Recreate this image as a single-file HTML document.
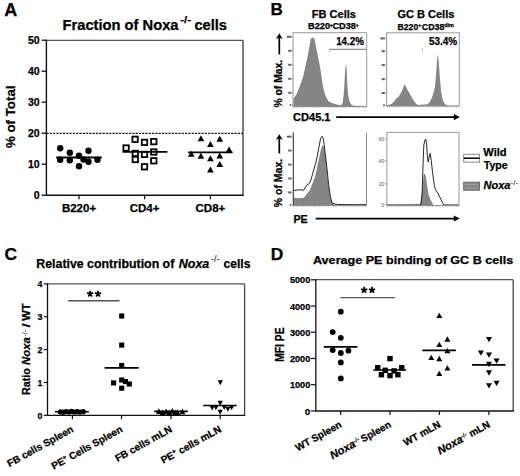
<!DOCTYPE html>
<html><head><meta charset="utf-8"><style>
html,body{margin:0;padding:0;background:#fff;overflow:hidden;}
text.k{stroke:#000;stroke-width:0.25px;}
svg{display:block;}

</style></head><body>
<svg width="520" height="476" viewBox="0 0 520 476" font-family='"Liberation Sans", sans-serif' font-weight="bold">
<rect width="520" height="476" fill="#fff"/>
<text class="k" x="4.2" y="16.2" font-size="18" fill="#000">A</text>
<text class="k" x="62.5" y="29.6" font-size="14.3" textLength="116" lengthAdjust="spacingAndGlyphs" fill="#000">Fraction of Noxa</text>
<text class="k" x="180.3" y="23.4" font-size="9" textLength="10.6" lengthAdjust="spacingAndGlyphs" fill="#000">-/-</text>
<text class="k" x="194.4" y="29.6" font-size="14.3" textLength="32.6" lengthAdjust="spacingAndGlyphs" fill="#000">cells</text>
<line x1="46.4" y1="40.3" x2="243" y2="40.3" stroke="#555" stroke-width="1.3" stroke-linecap="butt"/>
<line x1="243" y1="40.3" x2="243" y2="195.3" stroke="#444" stroke-width="1.4" stroke-linecap="butt"/>
<line x1="46.4" y1="39.7" x2="46.4" y2="196" stroke="#111" stroke-width="1.4" stroke-linecap="butt"/>
<line x1="46.4" y1="195.3" x2="243.6" y2="195.3" stroke="#111" stroke-width="1.4" stroke-linecap="butt"/>
<line x1="41.6" y1="195.2" x2="46.4" y2="195.2" stroke="#111" stroke-width="1.3" stroke-linecap="butt"/>
<text class="k" x="39.6" y="198.9" font-size="10.5" text-anchor="end" fill="#000">0</text>
<line x1="41.6" y1="164.2" x2="46.4" y2="164.2" stroke="#111" stroke-width="1.3" stroke-linecap="butt"/>
<text class="k" x="39.6" y="167.9" font-size="10.5" text-anchor="end" fill="#000">10</text>
<line x1="41.6" y1="133.2" x2="46.4" y2="133.2" stroke="#111" stroke-width="1.3" stroke-linecap="butt"/>
<text class="k" x="39.6" y="136.9" font-size="10.5" text-anchor="end" fill="#000">20</text>
<line x1="41.6" y1="102.2" x2="46.4" y2="102.2" stroke="#111" stroke-width="1.3" stroke-linecap="butt"/>
<text class="k" x="39.6" y="105.9" font-size="10.5" text-anchor="end" fill="#000">30</text>
<line x1="41.6" y1="71.2" x2="46.4" y2="71.2" stroke="#111" stroke-width="1.3" stroke-linecap="butt"/>
<text class="k" x="39.6" y="74.9" font-size="10.5" text-anchor="end" fill="#000">40</text>
<line x1="41.6" y1="40.2" x2="46.4" y2="40.2" stroke="#111" stroke-width="1.3" stroke-linecap="butt"/>
<text class="k" x="39.6" y="43.9" font-size="10.5" text-anchor="end" fill="#000">50</text>
<line x1="79" y1="195.3" x2="79" y2="199.3" stroke="#111" stroke-width="1.3" stroke-linecap="butt"/>
<text class="k" x="79" y="211.5" font-size="11.5" text-anchor="middle" fill="#000">B220+</text>
<line x1="144.6" y1="195.3" x2="144.6" y2="199.3" stroke="#111" stroke-width="1.3" stroke-linecap="butt"/>
<text class="k" x="144.6" y="211.5" font-size="11.5" text-anchor="middle" fill="#000">CD4+</text>
<line x1="210.4" y1="195.3" x2="210.4" y2="199.3" stroke="#111" stroke-width="1.3" stroke-linecap="butt"/>
<text class="k" x="210.4" y="211.5" font-size="11.5" text-anchor="middle" fill="#000">CD8+</text>
<line x1="46.4" y1="133.4" x2="243" y2="133.4" stroke="#111" stroke-width="1.2" stroke-linecap="butt" stroke-dasharray="2.2 1.1"/>
<circle cx="60.2" cy="148.2" r="3.2" fill="#000"/>
<circle cx="69.8" cy="152.8" r="3.2" fill="#000"/>
<circle cx="88.5" cy="150.7" r="3.2" fill="#000"/>
<circle cx="60.2" cy="159.7" r="3.2" fill="#000"/>
<circle cx="69.8" cy="160.2" r="3.2" fill="#000"/>
<circle cx="79" cy="155.8" r="3.2" fill="#000"/>
<circle cx="83.5" cy="159.5" r="3.2" fill="#000"/>
<circle cx="88.5" cy="161.8" r="3.2" fill="#000"/>
<circle cx="97.5" cy="159.8" r="3.2" fill="#000"/>
<circle cx="79" cy="166.2" r="3.2" fill="#000"/>
<line x1="56.2" y1="157.5" x2="101.7" y2="157.5" stroke="#000" stroke-width="1.8" stroke-linecap="butt"/>
<rect x="132.4" y="136.6" width="5.4" height="5.4" fill="#fff" stroke="#000" stroke-width="1.8"/>
<rect x="141.8" y="139.7" width="5.4" height="5.4" fill="#fff" stroke="#000" stroke-width="1.8"/>
<rect x="151.1" y="138.9" width="5.4" height="5.4" fill="#fff" stroke="#000" stroke-width="1.8"/>
<rect x="123.4" y="145.3" width="5.4" height="5.4" fill="#fff" stroke="#000" stroke-width="1.8"/>
<rect x="132.6" y="150.7" width="5.4" height="5.4" fill="#fff" stroke="#000" stroke-width="1.8"/>
<rect x="141.8" y="151.7" width="5.4" height="5.4" fill="#fff" stroke="#000" stroke-width="1.8"/>
<rect x="151.1" y="149.3" width="5.4" height="5.4" fill="#fff" stroke="#000" stroke-width="1.8"/>
<rect x="132.6" y="156.8" width="5.4" height="5.4" fill="#fff" stroke="#000" stroke-width="1.8"/>
<rect x="151.1" y="158.1" width="5.4" height="5.4" fill="#fff" stroke="#000" stroke-width="1.8"/>
<rect x="141.8" y="164.1" width="5.4" height="5.4" fill="#fff" stroke="#000" stroke-width="1.8"/>
<line x1="122.5" y1="151.9" x2="167.4" y2="151.9" stroke="#000" stroke-width="1.8" stroke-linecap="butt"/>
<polygon points="200.9,135.3 204.25,141.3 197.55,141.3" fill="#000"/>
<polygon points="219.75,135.7 223.1,141.7 216.4,141.7" fill="#000"/>
<polygon points="210.4,141 213.75,147 207.05,147" fill="#000"/>
<polygon points="229.1,146.6 232.45,152.6 225.75,152.6" fill="#000"/>
<polygon points="191.25,150.7 194.6,156.7 187.9,156.7" fill="#000"/>
<polygon points="200.9,152.8 204.25,158.8 197.55,158.8" fill="#000"/>
<polygon points="210.4,155.3 213.75,161.3 207.05,161.3" fill="#000"/>
<polygon points="219.75,152.5 223.1,158.5 216.4,158.5" fill="#000"/>
<polygon points="219.75,161 223.1,167 216.4,167" fill="#000"/>
<polygon points="210.4,166.6 213.75,172.6 207.05,172.6" fill="#000"/>
<line x1="188.1" y1="152.4" x2="232.5" y2="152.4" stroke="#000" stroke-width="1.8" stroke-linecap="butt"/>
<text class="k" x="15.3" y="116.8" font-size="12.6" text-anchor="middle" textLength="62.5" lengthAdjust="spacingAndGlyphs" transform="rotate(-90 15.3 116.8)" fill="#000">% of Total</text>
<text class="k" x="270.4" y="15.1" font-size="17" fill="#000">B</text>
<text class="k" x="333.9" y="17.9" font-size="11" text-anchor="middle" textLength="44.2" lengthAdjust="spacingAndGlyphs" fill="#000">FB Cells</text>
<text class="k" x="425.9" y="17.9" font-size="11" text-anchor="middle" textLength="57" lengthAdjust="spacingAndGlyphs" fill="#000">GC B Cells</text>
<text class="k" x="308" y="29.3" font-size="8.4" textLength="22.1" lengthAdjust="spacingAndGlyphs" fill="#000">B220</text>
<text class="k" x="329.8" y="26.9" font-size="5.2" fill="#000">+</text>
<text class="k" x="332.5" y="29.3" font-size="8.4" textLength="23.4" lengthAdjust="spacingAndGlyphs" fill="#000">CD38</text>
<text class="k" x="355.8" y="26.9" font-size="5.2" fill="#000">+</text>
<text class="k" x="397.5" y="29.7" font-size="8.4" textLength="20.7" lengthAdjust="spacingAndGlyphs" fill="#000">B220</text>
<text class="k" x="418.3" y="27.3" font-size="5.2" fill="#000">+</text>
<text class="k" x="421.8" y="29.7" font-size="8.4" textLength="22.6" lengthAdjust="spacingAndGlyphs" fill="#000">CD38</text>
<text class="k" x="444.3" y="27.2" font-size="5.4" textLength="9.6" lengthAdjust="spacingAndGlyphs" fill="#000">dim</text>
<path d="M293.4,106.6 L293.4,98.9 L296.7,93.9 L300.1,85.5 L303.4,75.4 L306.8,60.3 L308.5,51.8 L310.2,41.8 L311,38.4 L312.7,37.4 L314.4,38.4 L316,46.8 L317.7,55.2 L319.4,63.6 L321.1,73.7 L322.8,85.5 L324.5,93 L326.1,97 L328.5,101.3 L331.9,103 L336.6,104.5 L340.6,105.3 L342.1,104.2 L342.9,101.3 L343.8,93.2 L344.4,83.9 L345,72.4 L345.6,65.4 L346.2,64.6 L346.8,72.4 L347.3,83.9 L348.1,94.4 L349.3,100.7 L351,104.2 L353.4,105.7 L366.4,105.9 L366.4,106.6 Z" fill="#858585" stroke="none" stroke-width="1"/>
<path d="M386.8,106 L386.8,105.4 L390,104.6 L392,103.6 L394.5,101 L396.5,98.3 L398.5,96.8 L400.5,93.5 L402.5,89.5 L403.8,86 L404.6,84.5 L405.4,85.5 L407,89 L409,92.5 L411,96 L413,99.5 L415,102.5 L417,104.5 L419,105.1 L424,104.6 L427.5,104.2 L429.5,102.5 L431.5,98.6 L433.5,93 L435,86.5 L436,76 L436.8,63 L437.5,54.5 L438.2,57 L439,65 L440,80 L441.2,92 L442.8,100 L444.5,103.6 L446.5,105.2 L450,105.7 L459,105.8 L459,106 Z" fill="#858585" stroke="none" stroke-width="1"/>
<line x1="293" y1="32.7" x2="366.7" y2="32.7" stroke="#999" stroke-width="1" stroke-linecap="butt"/>
<line x1="293" y1="32.7" x2="293" y2="106.6" stroke="#999" stroke-width="1" stroke-linecap="butt"/>
<line x1="366.7" y1="32.7" x2="366.7" y2="106.6" stroke="#999" stroke-width="1" stroke-linecap="butt"/>
<line x1="293" y1="106.6" x2="366.7" y2="106.6" stroke="#888" stroke-width="1" stroke-linecap="butt"/>
<line x1="386.6" y1="32.8" x2="459.3" y2="32.8" stroke="#999" stroke-width="1" stroke-linecap="butt"/>
<line x1="386.6" y1="32.8" x2="386.6" y2="106.1" stroke="#999" stroke-width="1" stroke-linecap="butt"/>
<line x1="459.3" y1="32.8" x2="459.3" y2="106.1" stroke="#999" stroke-width="1" stroke-linecap="butt"/>
<line x1="386.6" y1="106.1" x2="459.3" y2="106.1" stroke="#888" stroke-width="1" stroke-linecap="butt"/>
<rect x="286.9" y="35.8" width="4.5" height="2" fill="#666"/>
<line x1="292" y1="36.8" x2="293.6" y2="36.8" stroke="#888" stroke-width="0.8"/>
<rect x="288.2" y="49.8" width="3.2" height="2" fill="#666"/>
<line x1="292" y1="50.8" x2="293.6" y2="50.8" stroke="#888" stroke-width="0.8"/>
<rect x="288.2" y="63.8" width="3.2" height="2" fill="#666"/>
<line x1="292" y1="64.8" x2="293.6" y2="64.8" stroke="#888" stroke-width="0.8"/>
<rect x="288.2" y="77.8" width="3.2" height="2" fill="#666"/>
<line x1="292" y1="78.8" x2="293.6" y2="78.8" stroke="#888" stroke-width="0.8"/>
<rect x="288.2" y="91.8" width="3.2" height="2" fill="#666"/>
<line x1="292" y1="92.8" x2="293.6" y2="92.8" stroke="#888" stroke-width="0.8"/>
<rect x="289.8" y="104" width="1.6" height="2" fill="#666"/>
<line x1="292" y1="105" x2="293.6" y2="105" stroke="#888" stroke-width="0.8"/>
<rect x="380.3" y="37.4" width="4.5" height="2" fill="#666"/>
<line x1="385.4" y1="38.4" x2="387" y2="38.4" stroke="#888" stroke-width="0.8"/>
<rect x="381.6" y="50.2" width="3.2" height="2" fill="#666"/>
<line x1="385.4" y1="51.2" x2="387" y2="51.2" stroke="#888" stroke-width="0.8"/>
<rect x="381.6" y="64.1" width="3.2" height="2" fill="#666"/>
<line x1="385.4" y1="65.1" x2="387" y2="65.1" stroke="#888" stroke-width="0.8"/>
<rect x="381.6" y="78.2" width="3.2" height="2" fill="#666"/>
<line x1="385.4" y1="79.2" x2="387" y2="79.2" stroke="#888" stroke-width="0.8"/>
<rect x="381.6" y="92" width="3.2" height="2" fill="#666"/>
<line x1="385.4" y1="93" x2="387" y2="93" stroke="#888" stroke-width="0.8"/>
<rect x="383.2" y="104.3" width="1.6" height="2" fill="#666"/>
<line x1="385.4" y1="105.3" x2="387" y2="105.3" stroke="#888" stroke-width="0.8"/>
<text class="k" x="363.8" y="45.1" font-size="10.3" text-anchor="end" textLength="27.6" lengthAdjust="spacingAndGlyphs" fill="#000">14.2%</text>
<line x1="329.6" y1="49.3" x2="366.5" y2="49.3" stroke="#777" stroke-width="1" stroke-linecap="butt"/>
<line x1="329.6" y1="49.3" x2="329.6" y2="52" stroke="#999" stroke-width="0.8" stroke-linecap="butt"/>
<text class="k" x="457.2" y="45.1" font-size="10.3" text-anchor="end" textLength="28.2" lengthAdjust="spacingAndGlyphs" fill="#000">53.4%</text>
<line x1="422.3" y1="48.2" x2="422.3" y2="51" stroke="#999" stroke-width="0.8" stroke-linecap="butt"/>
<path d="M293.8,205.3 L293.8,197.7 L298.6,198.2 L303.9,197.7 L306.5,194.2 L310.1,189.8 L312.7,182.7 L315.4,175.6 L318,163.3 L320.6,150.9 L322.4,144.8 L324.2,147.4 L325.9,159.8 L327.7,177.4 L329.5,193.3 L331.2,201.2 L333.9,204.2 L336,204.8 L336,205.3 Z" fill="#858585" stroke="none" stroke-width="1"/>
<path d="M293.8,190.6 L298.6,189.8 L303.9,190.1 L306.5,185.3 L309.2,183.6 L310.9,180.1 L313.6,170.4 L316.2,161.5 L318.9,147.4 L320.6,138.6 L322.1,136.3 L323.3,138.6 L324.2,144.8 L325.1,152.7 L326.8,166.8 L328.6,184.5 L330.4,196.8 L332.1,203 L335.6,204.2 L340,204.6 L366,204.7" fill="none" stroke="#111" stroke-width="0.9"/>
<path d="M420.1,205.2 L421.4,197.2 L422.6,185.5 L423.8,174.5 L424.8,173.4 L426,177.1 L427.1,185.5 L428.5,193.9 L430.2,199 L432.7,203.9 L433.5,205.2 Z" fill="#858585" stroke="none" stroke-width="1"/>
<path d="M387,205 L420.9,204.9 L422.1,193.9 L423.1,163.6 L423.8,145.1 L424.8,140.9 L425.6,139 L426.5,142.6 L427.3,155.2 L428.2,161.9 L429.2,156.9 L430.2,153.3 L431.2,160.3 L432.7,173.7 L434.4,185.5 L435.5,189.7 L437.7,193 L439.9,197.2 L442.3,202.3 L443.6,204.9 L459,205" fill="none" stroke="#111" stroke-width="0.9"/>
<line x1="293.3" y1="132.4" x2="293.3" y2="205.6" stroke="#222" stroke-width="1" stroke-linecap="butt"/>
<line x1="366.5" y1="132.4" x2="366.5" y2="205.6" stroke="#888" stroke-width="1" stroke-linecap="butt"/>
<line x1="293.3" y1="205.6" x2="366.5" y2="205.6" stroke="#888" stroke-width="1" stroke-linecap="butt"/>
<line x1="386.9" y1="132.4" x2="459" y2="132.4" stroke="#999" stroke-width="1" stroke-linecap="butt"/>
<line x1="386.9" y1="132.4" x2="386.9" y2="205.6" stroke="#999" stroke-width="1" stroke-linecap="butt"/>
<line x1="459" y1="132.4" x2="459" y2="205.6" stroke="#999" stroke-width="1" stroke-linecap="butt"/>
<line x1="386.9" y1="205.6" x2="459" y2="205.6" stroke="#888" stroke-width="1" stroke-linecap="butt"/>
<rect x="286.9" y="135.7" width="4.5" height="2" fill="#666"/>
<line x1="292" y1="136.7" x2="293.6" y2="136.7" stroke="#888" stroke-width="0.8"/>
<rect x="288.2" y="149.6" width="3.2" height="2" fill="#666"/>
<line x1="292" y1="150.6" x2="293.6" y2="150.6" stroke="#888" stroke-width="0.8"/>
<rect x="288.2" y="163.6" width="3.2" height="2" fill="#666"/>
<line x1="292" y1="164.6" x2="293.6" y2="164.6" stroke="#888" stroke-width="0.8"/>
<rect x="288.2" y="177.5" width="3.2" height="2" fill="#666"/>
<line x1="292" y1="178.5" x2="293.6" y2="178.5" stroke="#888" stroke-width="0.8"/>
<rect x="288.2" y="191.4" width="3.2" height="2" fill="#666"/>
<line x1="292" y1="192.4" x2="293.6" y2="192.4" stroke="#888" stroke-width="0.8"/>
<rect x="289.8" y="203.9" width="1.6" height="2" fill="#666"/>
<line x1="292" y1="204.9" x2="293.6" y2="204.9" stroke="#888" stroke-width="0.8"/>
<text x="384.4" y="140.6" font-size="5" font-weight="normal" text-anchor="end" fill="#555">60</text>
<line x1="385" y1="138.8" x2="386.9" y2="138.8" stroke="#888" stroke-width="0.8" stroke-linecap="butt"/>
<text x="384.4" y="162.8" font-size="5" font-weight="normal" text-anchor="end" fill="#555">40</text>
<line x1="385" y1="161" x2="386.9" y2="161" stroke="#888" stroke-width="0.8" stroke-linecap="butt"/>
<text x="384.4" y="185.5" font-size="5" font-weight="normal" text-anchor="end" fill="#555">20</text>
<line x1="385" y1="183.7" x2="386.9" y2="183.7" stroke="#888" stroke-width="0.8" stroke-linecap="butt"/>
<text x="384.4" y="206.6" font-size="5" font-weight="normal" text-anchor="end" fill="#555">0</text>
<line x1="385" y1="204.8" x2="386.9" y2="204.8" stroke="#888" stroke-width="0.8" stroke-linecap="butt"/>
<line x1="293.5" y1="107.3" x2="366.5" y2="107.3" stroke="#aaa" stroke-width="1.2" stroke-dasharray="0.8 1.6 0.8 2.4 0.8 3.5"/>
<line x1="387" y1="106.8" x2="459" y2="106.8" stroke="#aaa" stroke-width="1.2" stroke-dasharray="0.8 1.6 0.8 2.4 0.8 3.5"/>
<line x1="293.5" y1="206.3" x2="366.5" y2="206.3" stroke="#aaa" stroke-width="1.2" stroke-dasharray="0.8 1.6 0.8 2.4 0.8 3.5"/>
<line x1="387" y1="206.3" x2="459" y2="206.3" stroke="#aaa" stroke-width="1.2" stroke-dasharray="0.8 1.6 0.8 2.4 0.8 3.5"/>
<text class="k" x="281.8" y="83.65" font-size="10.8" text-anchor="middle" textLength="47.7" lengthAdjust="spacingAndGlyphs" transform="rotate(-90 281.8 83.65)" fill="#000">% of Max.</text>
<line x1="279.3" y1="54.4" x2="279.3" y2="37.3" stroke="#000" stroke-width="1.7" stroke-linecap="butt"/>
<path d="M279.3,33.3 L282.7,38.9 L279.3,37.5 L275.9,38.9 Z" fill="#000" stroke="none" stroke-width="1"/>
<text class="k" x="281.8" y="183" font-size="10.8" text-anchor="middle" textLength="48.4" lengthAdjust="spacingAndGlyphs" transform="rotate(-90 281.8 183)" fill="#000">% of Max.</text>
<line x1="279.3" y1="153.4" x2="279.3" y2="138.2" stroke="#000" stroke-width="1.7" stroke-linecap="butt"/>
<path d="M279.3,134.2 L282.7,139.8 L279.3,138.4 L275.9,139.8 Z" fill="#000" stroke="none" stroke-width="1"/>
<text class="k" x="293.1" y="121.1" font-size="11" textLength="37.4" lengthAdjust="spacingAndGlyphs" fill="#000">CD45.1</text>
<line x1="336.2" y1="117.2" x2="455" y2="117.2" stroke="#000" stroke-width="1.8" stroke-linecap="butt"/>
<path d="M459.8,117.1 L453.8,114 L453.8,120.2 Z" fill="#000" stroke="none" stroke-width="1"/>
<text class="k" x="293.4" y="222.9" font-size="11" textLength="14.3" lengthAdjust="spacingAndGlyphs" fill="#000">PE</text>
<line x1="315.7" y1="218.6" x2="455" y2="218.6" stroke="#000" stroke-width="1.8" stroke-linecap="butt"/>
<path d="M459.8,218.5 L453.8,215.4 L453.8,221.6 Z" fill="#000" stroke="none" stroke-width="1"/>
<rect x="463.7" y="154.3" width="15.8" height="7.8" fill="#fff" stroke="#888" stroke-width="1"/>
<line x1="463.7" y1="158.2" x2="479.5" y2="158.2" stroke="#111" stroke-width="1.6" stroke-linecap="butt"/>
<rect x="463.7" y="182.2" width="15.8" height="8" fill="#888" stroke="#6a6a6a" stroke-width="1"/>
<line x1="464.2" y1="184.4" x2="479" y2="184.4" stroke="#9c9c9c" stroke-width="1.1" stroke-linecap="butt"/>
<line x1="464.2" y1="188.2" x2="479" y2="188.2" stroke="#9c9c9c" stroke-width="1.1" stroke-linecap="butt"/>
<text class="k" x="483.3" y="156.4" font-size="11" textLength="23.3" lengthAdjust="spacingAndGlyphs" fill="#000">Wild</text>
<text class="k" x="483.7" y="169.3" font-size="11" textLength="24" lengthAdjust="spacingAndGlyphs" fill="#000">Type</text>
<text class="k" x="483.5" y="189.4" font-size="11" font-style="italic" textLength="27" lengthAdjust="spacingAndGlyphs" fill="#000">Noxa</text>
<text x="510.6" y="185.3" font-size="7" font-weight="normal" textLength="7.4" lengthAdjust="spacingAndGlyphs" fill="#000">-/-</text>
<text class="k" x="4.5" y="259.7" font-size="17.4" fill="#000">C</text>
<text class="k" x="36.3" y="267.5" font-size="12.1" textLength="138" lengthAdjust="spacingAndGlyphs" fill="#000">Relative contribution of</text>
<text class="k" x="178.8" y="267.5" font-size="12.1" font-style="italic" textLength="30.5" lengthAdjust="spacingAndGlyphs" fill="#000">Noxa</text>
<text x="210.9" y="261.9" font-size="9.5" font-weight="normal" textLength="8.6" lengthAdjust="spacingAndGlyphs" fill="#000">-/-</text>
<text class="k" x="223.6" y="267.5" font-size="12.1" textLength="26.8" lengthAdjust="spacingAndGlyphs" fill="#000">cells</text>
<line x1="47.5" y1="283.9" x2="244.6" y2="283.9" stroke="#555" stroke-width="1.3" stroke-linecap="butt"/>
<line x1="244.6" y1="283.9" x2="244.6" y2="415.3" stroke="#444" stroke-width="1.3" stroke-linecap="butt"/>
<line x1="47.5" y1="283.3" x2="47.5" y2="415.9" stroke="#111" stroke-width="1.3" stroke-linecap="butt"/>
<line x1="47.5" y1="415.3" x2="245.2" y2="415.3" stroke="#111" stroke-width="1.3" stroke-linecap="butt"/>
<line x1="43.8" y1="415.3" x2="47.5" y2="415.3" stroke="#111" stroke-width="1.2" stroke-linecap="butt"/>
<text class="k" x="42.3" y="418.6" font-size="8.8" text-anchor="end" fill="#000">0</text>
<line x1="43.8" y1="382.45" x2="47.5" y2="382.45" stroke="#111" stroke-width="1.2" stroke-linecap="butt"/>
<text class="k" x="42.3" y="385.75" font-size="8.8" text-anchor="end" fill="#000">1</text>
<line x1="43.8" y1="349.6" x2="47.5" y2="349.6" stroke="#111" stroke-width="1.2" stroke-linecap="butt"/>
<text class="k" x="42.3" y="352.9" font-size="8.8" text-anchor="end" fill="#000">2</text>
<line x1="43.8" y1="316.75" x2="47.5" y2="316.75" stroke="#111" stroke-width="1.2" stroke-linecap="butt"/>
<text class="k" x="42.3" y="320.05" font-size="8.8" text-anchor="end" fill="#000">3</text>
<line x1="43.8" y1="283.9" x2="47.5" y2="283.9" stroke="#111" stroke-width="1.2" stroke-linecap="butt"/>
<text class="k" x="42.3" y="287.2" font-size="8.8" text-anchor="end" fill="#000">4</text>
<line x1="72.4" y1="415.3" x2="72.4" y2="419.2" stroke="#111" stroke-width="1.2" stroke-linecap="butt"/>
<line x1="121.5" y1="415.3" x2="121.5" y2="419.2" stroke="#111" stroke-width="1.2" stroke-linecap="butt"/>
<line x1="171" y1="415.3" x2="171" y2="419.2" stroke="#111" stroke-width="1.2" stroke-linecap="butt"/>
<line x1="220.2" y1="415.3" x2="220.2" y2="419.2" stroke="#111" stroke-width="1.2" stroke-linecap="butt"/>
<circle cx="60.3" cy="411.9" r="2.6" fill="#000"/>
<circle cx="63.2" cy="412.2" r="2.6" fill="#000"/>
<circle cx="66.2" cy="411.6" r="2.6" fill="#000"/>
<circle cx="69.2" cy="412.1" r="2.6" fill="#000"/>
<circle cx="71.4" cy="411.3" r="2.6" fill="#000"/>
<circle cx="74" cy="412" r="2.6" fill="#000"/>
<circle cx="77" cy="411.7" r="2.6" fill="#000"/>
<circle cx="80" cy="412.1" r="2.6" fill="#000"/>
<circle cx="83.3" cy="411.7" r="2.6" fill="#000"/>
<line x1="55" y1="411.7" x2="88.8" y2="411.7" stroke="#000" stroke-width="1.6" stroke-linecap="butt"/>
<rect x="119.15" y="313.45" width="5.1" height="5.1" fill="#000"/>
<rect x="119.15" y="342.55" width="5.1" height="5.1" fill="#000"/>
<rect x="119.15" y="362.95" width="5.1" height="5.1" fill="#000"/>
<rect x="111.05" y="380.35" width="5.1" height="5.1" fill="#000"/>
<rect x="119.15" y="377.45" width="5.1" height="5.1" fill="#000"/>
<rect x="122.95" y="379.05" width="5.1" height="5.1" fill="#000"/>
<rect x="126.75" y="381.45" width="5.1" height="5.1" fill="#000"/>
<rect x="119.15" y="385.65" width="5.1" height="5.1" fill="#000"/>
<line x1="104.6" y1="367.9" x2="138.8" y2="367.9" stroke="#000" stroke-width="1.6" stroke-linecap="butt"/>
<polygon points="158.9,408.2 161.8,414 156,414" fill="#000"/>
<polygon points="162.6,409.4 165.5,415.2 159.7,415.2" fill="#000"/>
<polygon points="166.2,408.5 169.1,414.3 163.3,414.3" fill="#000"/>
<polygon points="169.4,409.4 172.3,415.2 166.5,415.2" fill="#000"/>
<polygon points="172.4,407.9 175.3,413.7 169.5,413.7" fill="#000"/>
<polygon points="175,409.6 177.9,415.4 172.1,415.4" fill="#000"/>
<polygon points="177.4,409.2 180.3,415 174.5,415" fill="#000"/>
<polygon points="182.4,408.5 185.3,414.3 179.5,414.3" fill="#000"/>
<line x1="154.3" y1="411.4" x2="187.8" y2="411.4" stroke="#000" stroke-width="1.6" stroke-linecap="butt"/>
<polygon points="220.3,385.2 222.95,380.2 217.65,380.2" fill="#000"/>
<polygon points="220.2,405.8 222.85,400.8 217.55,400.8" fill="#000"/>
<polygon points="212.2,410.6 214.85,405.6 209.55,405.6" fill="#000"/>
<polygon points="215.9,410.2 218.55,405.2 213.25,405.2" fill="#000"/>
<polygon points="220.2,414.7 222.85,409.7 217.55,409.7" fill="#000"/>
<polygon points="224.2,410 226.85,405 221.55,405" fill="#000"/>
<polygon points="227.9,411.8 230.55,406.8 225.25,406.8" fill="#000"/>
<polygon points="231.6,410.2 234.25,405.2 228.95,405.2" fill="#000"/>
<line x1="203.2" y1="405.5" x2="236.8" y2="405.5" stroke="#000" stroke-width="1.6" stroke-linecap="butt"/>
<line x1="68.2" y1="300.7" x2="119.5" y2="300.7" stroke="#555" stroke-width="1.4" stroke-linecap="butt"/>
<path d="M90.2,293.9 L90.2,290.7 M90.2,293.9 L93.24,292.91 M90.2,293.9 L92.08,296.49 M90.2,293.9 L88.32,296.49 M90.2,293.9 L87.16,292.91 " stroke="#000" stroke-width="1.7" stroke-linecap="butt" fill="none"/>
<path d="M98,293.9 L98,290.7 M98,293.9 L101.04,292.91 M98,293.9 L99.88,296.49 M98,293.9 L96.12,296.49 M98,293.9 L94.96,292.91 " stroke="#000" stroke-width="1.7" stroke-linecap="butt" fill="none"/>
<text class="k" transform="translate(29.9,394.9) rotate(-90)" font-size="10.7" textLength="26.8" lengthAdjust="spacingAndGlyphs">Ratio</text>
<text class="k" transform="translate(29.9,364.9) rotate(-90)" font-size="10.8" font-style="italic" textLength="27.6" lengthAdjust="spacingAndGlyphs">Noxa</text>
<text transform="translate(26.6,336.7) rotate(-90)" font-size="7" font-weight="normal" textLength="7" lengthAdjust="spacingAndGlyphs">-/-</text>
<text class="k" transform="translate(29.9,327.6) rotate(-90)" font-size="11" textLength="4.2" lengthAdjust="spacingAndGlyphs">/</text>
<text class="k" transform="translate(29.9,320.8) rotate(-90)" font-size="10.6" textLength="17.2" lengthAdjust="spacingAndGlyphs">WT</text>
<text class="k" transform="translate(74.2,431.3) rotate(-29)" font-size="10" text-anchor="end">FB cells Spleen</text>
<text class="k" transform="translate(123.3,431.3) rotate(-29)" font-size="10" text-anchor="end">PE<tspan font-size="6.5" dy="-3.5">+</tspan><tspan dy="3.5"> Cells Spleen</tspan></text>
<text class="k" transform="translate(172.8,431.3) rotate(-29)" font-size="10" text-anchor="end">FB cells mLN</text>
<text class="k" transform="translate(222,431.3) rotate(-29)" font-size="10" text-anchor="end">PE<tspan font-size="6.5" dy="-3.5">+</tspan><tspan dy="3.5"> cells mLN</tspan></text>
<text class="k" x="270.8" y="259.7" font-size="17.4" fill="#000">D</text>
<text class="k" x="313" y="264" font-size="10.8" textLength="200.3" lengthAdjust="spacingAndGlyphs" fill="#000">Average PE binding of GC B cells</text>
<line x1="315.8" y1="279.7" x2="513.2" y2="279.7" stroke="#555" stroke-width="1.3" stroke-linecap="butt"/>
<line x1="513.2" y1="279.7" x2="513.2" y2="411" stroke="#444" stroke-width="1.3" stroke-linecap="butt"/>
<line x1="315.8" y1="279.1" x2="315.8" y2="411.6" stroke="#111" stroke-width="1.3" stroke-linecap="butt"/>
<line x1="315.8" y1="411" x2="513.8" y2="411" stroke="#111" stroke-width="1.3" stroke-linecap="butt"/>
<line x1="310.8" y1="410.9" x2="315.8" y2="410.9" stroke="#111" stroke-width="1.2" stroke-linecap="butt"/>
<text class="k" x="310.3" y="414.5" font-size="9.8" text-anchor="end" fill="#000">0</text>
<line x1="310.8" y1="384.68" x2="315.8" y2="384.68" stroke="#111" stroke-width="1.2" stroke-linecap="butt"/>
<text class="k" x="310.3" y="388.28" font-size="9.8" text-anchor="end" textLength="20.4" lengthAdjust="spacingAndGlyphs" fill="#000">1000</text>
<line x1="310.8" y1="358.46" x2="315.8" y2="358.46" stroke="#111" stroke-width="1.2" stroke-linecap="butt"/>
<text class="k" x="310.3" y="362.06" font-size="9.8" text-anchor="end" textLength="20.4" lengthAdjust="spacingAndGlyphs" fill="#000">2000</text>
<line x1="310.8" y1="332.24" x2="315.8" y2="332.24" stroke="#111" stroke-width="1.2" stroke-linecap="butt"/>
<text class="k" x="310.3" y="335.84" font-size="9.8" text-anchor="end" textLength="20.4" lengthAdjust="spacingAndGlyphs" fill="#000">3000</text>
<line x1="310.8" y1="306.02" x2="315.8" y2="306.02" stroke="#111" stroke-width="1.2" stroke-linecap="butt"/>
<text class="k" x="310.3" y="309.62" font-size="9.8" text-anchor="end" textLength="20.4" lengthAdjust="spacingAndGlyphs" fill="#000">4000</text>
<line x1="310.8" y1="279.8" x2="315.8" y2="279.8" stroke="#111" stroke-width="1.2" stroke-linecap="butt"/>
<text class="k" x="310.3" y="283.4" font-size="9.8" text-anchor="end" textLength="20.4" lengthAdjust="spacingAndGlyphs" fill="#000">5000</text>
<line x1="340.6" y1="411" x2="340.6" y2="415" stroke="#111" stroke-width="1.2" stroke-linecap="butt"/>
<line x1="390" y1="411" x2="390" y2="415" stroke="#111" stroke-width="1.2" stroke-linecap="butt"/>
<line x1="439.4" y1="411" x2="439.4" y2="415" stroke="#111" stroke-width="1.2" stroke-linecap="butt"/>
<line x1="488.9" y1="411" x2="488.9" y2="415" stroke="#111" stroke-width="1.2" stroke-linecap="butt"/>
<circle cx="340.8" cy="311.7" r="2.9" fill="#000"/>
<circle cx="332.7" cy="332.1" r="2.9" fill="#000"/>
<circle cx="340.8" cy="337.8" r="2.9" fill="#000"/>
<circle cx="332.7" cy="350.1" r="2.9" fill="#000"/>
<circle cx="340.8" cy="352.9" r="2.9" fill="#000"/>
<circle cx="348.4" cy="350.7" r="2.9" fill="#000"/>
<circle cx="340.8" cy="362.4" r="2.9" fill="#000"/>
<circle cx="340.8" cy="378.4" r="2.9" fill="#000"/>
<line x1="323.8" y1="346.9" x2="357.4" y2="346.9" stroke="#000" stroke-width="1.6" stroke-linecap="butt"/>
<rect x="387.3" y="355.9" width="5.4" height="5.4" fill="#000"/>
<rect x="375" y="365" width="5.4" height="5.4" fill="#000"/>
<rect x="378.7" y="372" width="5.4" height="5.4" fill="#000"/>
<rect x="382.5" y="367.6" width="5.4" height="5.4" fill="#000"/>
<rect x="387.3" y="372.9" width="5.4" height="5.4" fill="#000"/>
<rect x="391.4" y="368.2" width="5.4" height="5.4" fill="#000"/>
<rect x="395.2" y="372" width="5.4" height="5.4" fill="#000"/>
<rect x="399" y="365" width="5.4" height="5.4" fill="#000"/>
<line x1="373.3" y1="370" x2="406" y2="370" stroke="#000" stroke-width="1.6" stroke-linecap="butt"/>
<polygon points="439.3,312.75 442.3,318.05 436.3,318.05" fill="#000"/>
<polygon points="447.4,336.35 450.4,341.65 444.4,341.65" fill="#000"/>
<polygon points="439.3,341.65 442.3,346.95 436.3,346.95" fill="#000"/>
<polygon points="447.4,348.05 450.4,353.35 444.4,353.35" fill="#000"/>
<polygon points="431.3,354.75 434.3,360.05 428.3,360.05" fill="#000"/>
<polygon points="439.3,355.85 442.3,361.15 436.3,361.15" fill="#000"/>
<polygon points="447.4,365.15 450.4,370.45 444.4,370.45" fill="#000"/>
<polygon points="439.3,370.75 442.3,376.05 436.3,376.05" fill="#000"/>
<line x1="422.3" y1="350.4" x2="455.9" y2="350.4" stroke="#000" stroke-width="1.6" stroke-linecap="butt"/>
<polygon points="489,342.25 492,336.95 486,336.95" fill="#000"/>
<polygon points="480.9,355.85 483.9,350.55 477.9,350.55" fill="#000"/>
<polygon points="489,357.75 492,352.45 486,352.45" fill="#000"/>
<polygon points="496.6,363.75 499.6,358.45 493.6,358.45" fill="#000"/>
<polygon points="489,367.15 492,361.85 486,361.85" fill="#000"/>
<polygon points="489,375.65 492,370.35 486,370.35" fill="#000"/>
<polygon points="496.6,386.05 499.6,380.75 493.6,380.75" fill="#000"/>
<polygon points="489,388.55 492,383.25 486,383.25" fill="#000"/>
<line x1="472" y1="364.9" x2="505.4" y2="364.9" stroke="#000" stroke-width="1.6" stroke-linecap="butt"/>
<line x1="340.5" y1="297.6" x2="394.9" y2="297.6" stroke="#555" stroke-width="1.4" stroke-linecap="butt"/>
<path d="M364.2,290.1 L364.2,286.8 M364.2,290.1 L367.34,289.08 M364.2,290.1 L366.14,292.77 M364.2,290.1 L362.26,292.77 M364.2,290.1 L361.06,289.08 " stroke="#000" stroke-width="1.7" stroke-linecap="butt" fill="none"/>
<path d="M372,290.1 L372,286.8 M372,290.1 L375.14,289.08 M372,290.1 L373.94,292.77 M372,290.1 L370.06,292.77 M372,290.1 L368.86,289.08 " stroke="#000" stroke-width="1.7" stroke-linecap="butt" fill="none"/>
<text class="k" x="284.4" y="344.6" font-size="12.3" text-anchor="middle" textLength="34.3" lengthAdjust="spacingAndGlyphs" transform="rotate(-90 284.4 344.6)" fill="#000">MFI PE</text>
<text class="k" transform="translate(342.4,426.6) rotate(-29)" font-size="10" text-anchor="end">WT Spleen</text>
<text class="k" transform="translate(391.8,426.6) rotate(-29)" font-size="10" text-anchor="end"><tspan font-style="italic" font-size="11.2">Noxa</tspan><tspan font-size="6" font-weight="normal" dy="-3.5">-/-</tspan><tspan dy="3.5">&#8201;Spleen</tspan></text>
<text class="k" transform="translate(441.2,426.6) rotate(-29)" font-size="10" text-anchor="end">WT mLN</text>
<text class="k" transform="translate(490.7,426.6) rotate(-29)" font-size="10" text-anchor="end"><tspan font-style="italic" font-size="11.2">Noxa</tspan><tspan font-size="6" font-weight="normal" dy="-3.5">-/-</tspan><tspan dy="3.5"> mLN</tspan></text>
</svg>
</body></html>
